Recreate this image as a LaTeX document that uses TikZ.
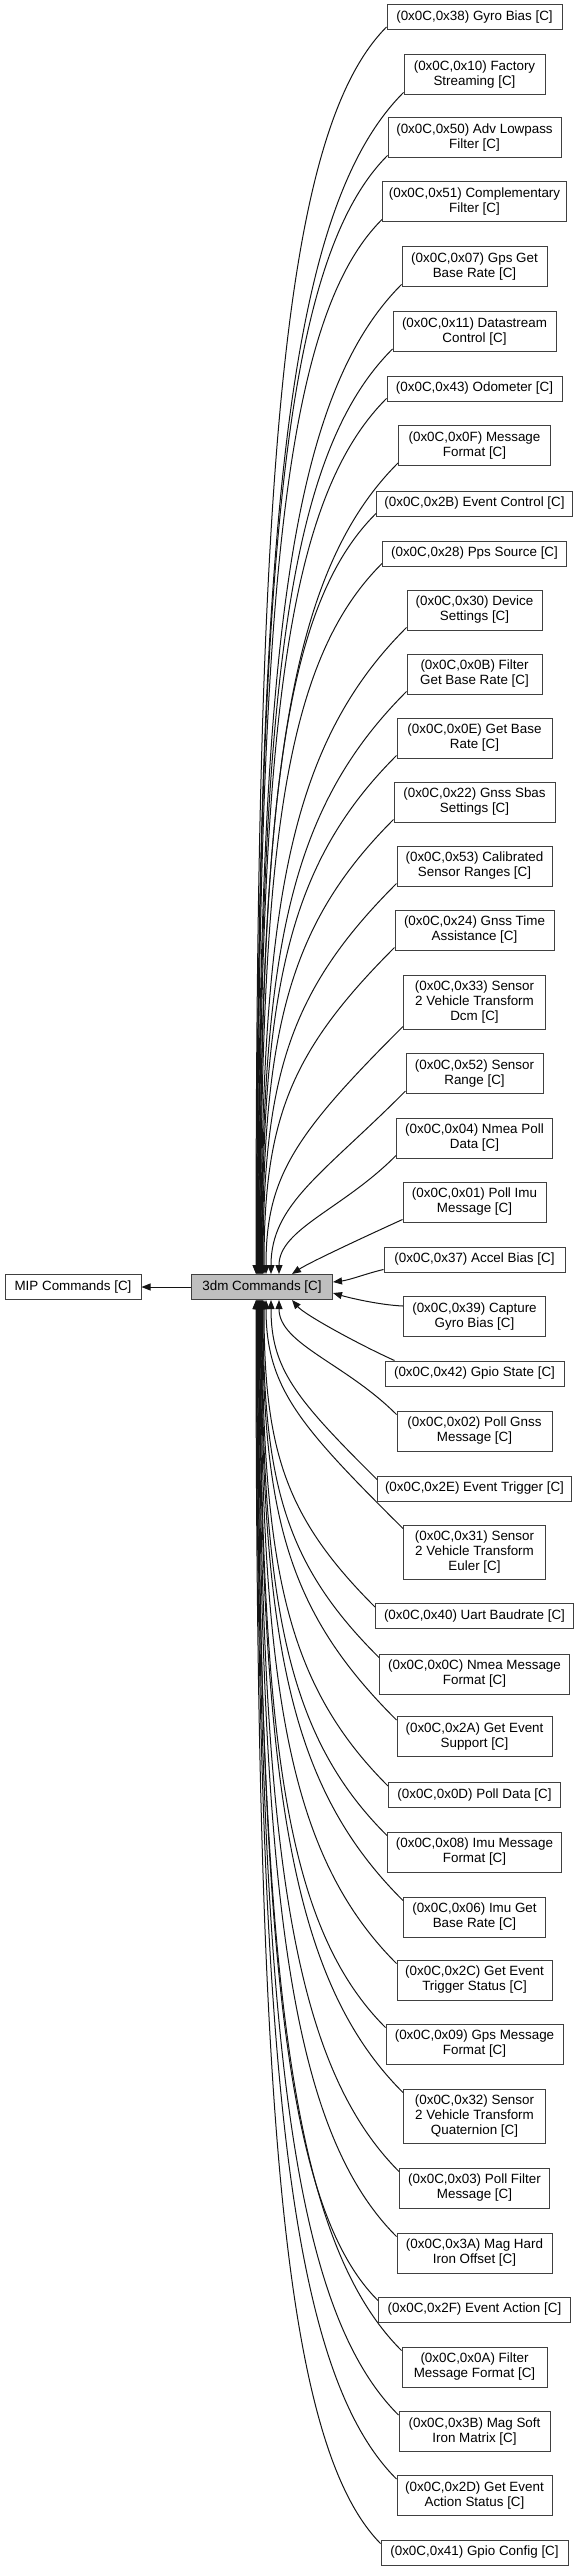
\documentclass[tikz,border=0pt]{standalone}
\usepackage{fontspec}
\setmainfont{Liberation Sans}
\usetikzlibrary{arrows.meta}
\definecolor{boxline}{rgb}{0.25,0.25,0.25}
\definecolor{selgray}{rgb}{0.75,0.75,0.75}
\definecolor{edgeline}{rgb}{0.08,0.08,0.08}

\begin{document}
\begin{tikzpicture}[x=1pt,y=-1pt,
  grp/.style={draw=boxline,line width=1pt,fill=white,align=center,inner xsep=2pt,inner ysep=5pt,minimum height=25pt,font=\fontsize{13.4}{15}\selectfont},
  grptwo/.style={grp,minimum height=40pt},
  grpthree/.style={grp,minimum height=54pt},
  grpedge/.style={draw=edgeline,line width=1pt,-{Triangle[length=9pt,width=7pt]}}]
  \useasboundingbox (0,0) rectangle (579,2571);

  \node[grp,minimum width=136pt] (mip) at (73,1287) {MIP Commands [C]};
  \node[grp,fill=selgray,minimum width=141pt] (cmd3dm) at (262,1287) {3dm Commands [C]};

  \node[grp,minimum width=175pt] (gyrobias) at (474.5,17) {(0x0C,0x38) Gyro Bias [C]};
  \node[grptwo,minimum width=141pt] (factorystreaming) at (474.5,75) {(0x0C,0x10) Factory\\Streaming [C]};
  \node[grptwo,minimum width=173pt] (advlowpass) at (474.5,138) {(0x0C,0x50) Adv Lowpass\\Filter [C]};
  \node[grptwo,minimum width=184pt] (complementary) at (474.5,202) {(0x0C,0x51) Complementary\\Filter [C]};
  \node[grptwo,minimum width=145pt] (gpsbaserate) at (474.5,267) {(0x0C,0x07) Gps Get\\Base Rate [C]};
  \node[grptwo,minimum width=163pt] (datastream) at (474.5,331.5) {(0x0C,0x11) Datastream\\Control [C]};
  \node[grp,minimum width=175pt] (odometer) at (474.5,388.5) {(0x0C,0x43) Odometer [C]};
  \node[grptwo,minimum width=152pt] (msgformat) at (474.5,445.5) {(0x0C,0x0F) Message\\Format [C]};
  \node[grp,minimum width=196pt] (eventcontrol) at (474.5,503.5) {(0x0C,0x2B) Event Control [C]};
  \node[grp,minimum width=184pt] (ppssource) at (474.5,553.5) {(0x0C,0x28) Pps Source [C]};
  \node[grptwo,minimum width=135pt] (devicesettings) at (474.5,610) {(0x0C,0x30) Device\\Settings [C]};
  \node[grptwo,minimum width=135pt] (filterbaserate) at (474.5,674) {(0x0C,0x0B) Filter\\Get Base Rate [C]};
  \node[grptwo,minimum width=155pt] (getbaserate) at (474.5,738) {(0x0C,0x0E) Get Base\\Rate [C]};
  \node[grptwo,minimum width=161pt] (gnsssbas) at (474.5,802) {(0x0C,0x22) Gnss Sbas\\Settings [C]};
  \node[grptwo,minimum width=155pt] (calranges) at (474.5,866) {(0x0C,0x53) Calibrated\\Sensor Ranges [C]};
  \node[grptwo,minimum width=159pt] (gnsstime) at (474.5,930) {(0x0C,0x24) Gnss Time\\Assistance [C]};
  \node[grpthree,minimum width=142pt] (sensorvehdcm) at (474.5,1002) {(0x0C,0x33) Sensor\\2 Vehicle Transform\\Dcm [C]};
  \node[grptwo,minimum width=137pt] (sensorrange) at (474.5,1073.5) {(0x0C,0x52) Sensor\\Range [C]};
  \node[grptwo,minimum width=156pt] (nmeapoll) at (474.5,1138) {(0x0C,0x04) Nmea Poll\\Data [C]};
  \node[grptwo,minimum width=143pt] (pollimu) at (474.5,1202) {(0x0C,0x01) Poll Imu\\Message [C]};
  \node[grp,minimum width=181pt] (accelbias) at (474.5,1259.5) {(0x0C,0x37) Accel Bias [C]};
  \node[grptwo,minimum width=142pt] (capturegyro) at (474.5,1316.5) {(0x0C,0x39) Capture\\Gyro Bias [C]};
  \node[grp,minimum width=179pt] (gpiostate) at (474.5,1373.5) {(0x0C,0x42) Gpio State [C]};
  \node[grptwo,minimum width=155pt] (pollgnss) at (474.5,1431) {(0x0C,0x02) Poll Gnss\\Message [C]};
  \node[grp,minimum width=194pt] (eventtrigger) at (474.5,1488.5) {(0x0C,0x2E) Event Trigger [C]};
  \node[grpthree,minimum width=142pt] (sensorveheuler) at (474.5,1552) {(0x0C,0x31) Sensor\\2 Vehicle Transform\\Euler [C]};
  \node[grp,minimum width=198pt] (uartbaud) at (474.5,1616) {(0x0C,0x40) Uart Baudrate [C]};
  \node[grptwo,minimum width=190pt] (nmeaformat) at (474.5,1674) {(0x0C,0x0C) Nmea Message\\Format [C]};
  \node[grptwo,minimum width=155pt] (eventsupport) at (474.5,1736.5) {(0x0C,0x2A) Get Event\\Support [C]};
  \node[grp,minimum width=172pt] (polldata) at (474.5,1795) {(0x0C,0x0D) Poll Data [C]};
  \node[grptwo,minimum width=174pt] (imuformat) at (474.5,1852) {(0x0C,0x08) Imu Message\\Format [C]};
  \node[grptwo,minimum width=142pt] (imubaserate) at (474.5,1917) {(0x0C,0x06) Imu Get\\Base Rate [C]};
  \node[grptwo,minimum width=155pt] (triggerstatus) at (474.5,1980) {(0x0C,0x2C) Get Event\\Trigger Status [C]};
  \node[grptwo,minimum width=177pt] (gpsformat) at (474.5,2044) {(0x0C,0x09) Gps Message\\Format [C]};
  \node[grpthree,minimum width=142pt] (sensorvehquat) at (474.5,2116) {(0x0C,0x32) Sensor\\2 Vehicle Transform\\Quaternion [C]};
  \node[grptwo,minimum width=150pt] (pollfilter) at (474.5,2188) {(0x0C,0x03) Poll Filter\\Message [C]};
  \node[grptwo,minimum width=155pt] (maghardiron) at (474.5,2253) {(0x0C,0x3A) Mag Hard\\Iron Offset [C]};
  \node[grp,minimum width=192pt] (eventaction) at (474.5,2309.5) {(0x0C,0x2F) Event Action [C]};
  \node[grptwo,minimum width=145pt] (filterformat) at (474.5,2367) {(0x0C,0x0A) Filter\\Message Format [C]};
  \node[grptwo,minimum width=151pt] (magsoftiron) at (474.5,2431.5) {(0x0C,0x3B) Mag Soft\\Iron Matrix [C]};
  \node[grptwo,minimum width=155pt] (actionstatus) at (474.5,2495.5) {(0x0C,0x2D) Get Event\\Action Status [C]};
  \node[grp,minimum width=187pt] (gpioconfig) at (474.5,2552.5) {(0x0C,0x41) Gpio Config [C]};

  \draw[grpedge] (cmd3dm) -- (mip);

  \draw[grpedge] ([yshift=3pt]gyrobias.south west) .. controls (282,132) and (256,475) .. ([xshift=-6pt]cmd3dm.north);
  \draw[grpedge] ([yshift=3pt]factorystreaming.south west) .. controls (286,210) and (256.5,529) .. ([xshift=-5.5pt]cmd3dm.north);
  \draw[grpedge] ([yshift=3pt]advlowpass.south west) .. controls (283,260) and (257,564) .. ([xshift=-5pt]cmd3dm.north);
  \draw[grpedge] ([yshift=3pt]complementary.south west) .. controls (282,319) and (257.5,606) .. ([xshift=-4.5pt]cmd3dm.north);
  \draw[grpedge] ([yshift=3pt]gpsbaserate.south west) .. controls (287,399) and (258,662) .. ([xshift=-4pt]cmd3dm.north);
  \draw[grpedge] ([yshift=3pt]datastream.south west) .. controls (285,456) and (258.5,702) .. ([xshift=-3.5pt]cmd3dm.north);
  \draw[grpedge] ([yshift=3pt]odometer.south west) .. controls (285,500) and (259,732) .. ([xshift=-3pt]cmd3dm.north);
  \draw[grpedge] ([yshift=3pt]msgformat.south west) .. controls (287,574) and (259.5,784) .. ([xshift=-2.5pt]cmd3dm.north);
  \draw[grpedge] ([yshift=3pt]eventcontrol.south west) .. controls (283,606) and (260,807) .. ([xshift=-2pt]cmd3dm.north);
  \draw[grpedge] ([yshift=3pt]ppssource.south west) .. controls (285,660) and (260.5,844) .. ([xshift=-1.5pt]cmd3dm.north);
  \draw[grpedge] ([yshift=3pt]devicesettings.south west) .. controls (290,744) and (261,903) .. ([xshift=-1pt]cmd3dm.north);
  \draw[grpedge] ([yshift=3pt]filterbaserate.south west) .. controls (291,807) and (261.5,947) .. ([xshift=-0.5pt]cmd3dm.north);
  \draw[grpedge] ([yshift=3pt]getbaserate.south west) .. controls (289,863) and (262,986) .. (cmd3dm.north);
  \draw[grpedge] ([yshift=3pt]gnsssbas.south west) .. controls (289,924) and (262.5,1029) .. ([xshift=0.5pt]cmd3dm.north);
  \draw[grpedge] ([yshift=3pt]calranges.south west) .. controls (290,990) and (263,1075) .. ([xshift=1pt]cmd3dm.north);
  \draw[grpedge] ([yshift=3pt]gnsstime.south west) .. controls (290,1052) and (264,1119) .. ([xshift=2pt]cmd3dm.north);
  \draw[grpedge] ([yshift=3pt]sensorvehdcm.south west) .. controls (293,1136) and (266,1178) .. ([xshift=4pt]cmd3dm.north);
  \draw[grpedge] ([yshift=3pt]sensorrange.south west) .. controls (323,1174) and (271,1204) .. ([xshift=9pt]cmd3dm.north);
  \draw[grpedge] ([yshift=3pt]nmeapoll.south west) .. controls (343,1209) and (279,1229) .. ([xshift=17pt]cmd3dm.north);
  \draw[grpedge] ([yshift=3pt]pollimu.south west) .. controls (375,1232) and (310,1262) .. ([xshift=30pt]cmd3dm.north);
  \draw[grpedge] ([yshift=3pt]accelbias.south west) .. controls (368,1273) and (350,1280) .. ([yshift=5pt]cmd3dm.east);
  \draw[grpedge] ([yshift=-10pt]capturegyro.north west) .. controls (380,1305) and (350,1298) .. ([yshift=-6pt]cmd3dm.east);
  \draw[grpedge] ([xshift=10pt]gpiostate.north west) .. controls (360,1345) and (305,1315) .. ([xshift=30pt]cmd3dm.south);
  \draw[grpedge] ([yshift=-4pt]pollgnss.north west) .. controls (345,1363) and (279,1344) .. ([xshift=17pt]cmd3dm.south);
  \draw[grpedge] ([yshift=-4pt]eventtrigger.north west) .. controls (296,1399) and (271,1369) .. ([xshift=9pt]cmd3dm.south);
  \draw[grpedge] ([yshift=-4pt]sensorveheuler.north west) .. controls (300,1426) and (266,1388) .. ([xshift=4pt]cmd3dm.south);
  \draw[grpedge] ([yshift=-4pt]uartbaud.north west) .. controls (286,1518) and (264,1452) .. ([xshift=2pt]cmd3dm.south);
  \draw[grpedge] ([yshift=-4pt]nmeaformat.north west) .. controls (286,1565) and (263,1485) .. ([xshift=1pt]cmd3dm.south);
  \draw[grpedge] ([yshift=-4pt]eventsupport.north west) .. controls (289,1613) and (262.5,1519) .. ([xshift=0.5pt]cmd3dm.south);
  \draw[grpedge] ([yshift=-4pt]polldata.north west) .. controls (287,1685) and (262,1569) .. (cmd3dm.south);
  \draw[grpedge] ([yshift=-4pt]imuformat.north west) .. controls (287,1736) and (261.5,1605) .. ([xshift=-0.5pt]cmd3dm.south);
  \draw[grpedge] ([yshift=-4pt]imubaserate.north west) .. controls (289,1787) and (261,1641) .. ([xshift=-1pt]cmd3dm.south);
  \draw[grpedge] ([yshift=-4pt]triggerstatus.north west) .. controls (288,1855) and (260.5,1688) .. ([xshift=-1.5pt]cmd3dm.south);
  \draw[grpedge] ([yshift=-4pt]gpsformat.north west) .. controls (285,1927) and (260,1739) .. ([xshift=-2pt]cmd3dm.south);
  \draw[grpedge] ([yshift=-4pt]sensorvehquat.north west) .. controls (288,1978) and (259.5,1774) .. ([xshift=-2.5pt]cmd3dm.south);
  \draw[grpedge] ([yshift=-4pt]pollfilter.north west) .. controls (287,2059) and (259,1831) .. ([xshift=-3pt]cmd3dm.south);
  \draw[grpedge] ([yshift=-4pt]maghardiron.north west) .. controls (286,2126) and (258.5,1878) .. ([xshift=-3.5pt]cmd3dm.south);
  \draw[grpedge] ([yshift=-4pt]eventaction.north west) .. controls (282,2205) and (258,1933) .. ([xshift=-4pt]cmd3dm.south);
  \draw[grpedge] ([yshift=-4pt]filterformat.north west) .. controls (286,2235) and (257.5,1954) .. ([xshift=-4.5pt]cmd3dm.south);
  \draw[grpedge] ([yshift=-4pt]magsoftiron.north west) .. controls (285,2302) and (257,2001) .. ([xshift=-5pt]cmd3dm.south);
  \draw[grpedge] ([yshift=-4pt]actionstatus.north west) .. controls (285,2368) and (256.5,2047) .. ([xshift=-5.5pt]cmd3dm.south);
  \draw[grpedge] ([yshift=-4pt]gpioconfig.north west) .. controls (281,2442) and (256,2099) .. ([xshift=-6pt]cmd3dm.south);
\end{tikzpicture}
\end{document}
